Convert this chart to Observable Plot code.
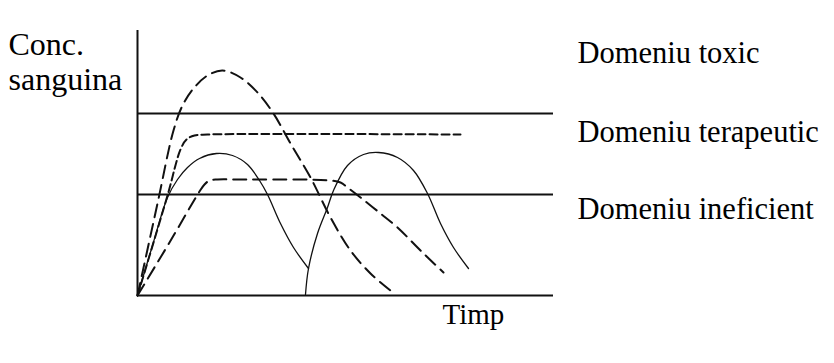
<!DOCTYPE html>
<html>
<head>
<meta charset="utf-8">
<script src="https://cdn.jsdelivr.net/npm/d3@7"></script>
<script src="https://cdn.jsdelivr.net/npm/@observablehq/plot@0.6"></script>
<style>
  html, body { margin: 0; padding: 0; background: #fff; }
  #chart svg { display: block; }
</style>
</head>
<body>
<div id="chart"></div>
<script>
// ---- data (time t, concentration c; schematic units) ----
const curveToxicT = [0, 20, 36, 45, 56, 70, 85, 103, 120, 136, 153, 173, 193, 213, 233, 253];
const curveToxicC = [0, 92, 165, 190, 207, 220, 225, 218, 203, 182, 152, 118, 78, 45, 22, 5];

const curvePlateauT = [0, 30, 43, 49, 57, 70, 323];
const curvePlateauC = [0, 100, 146, 156, 160, 161, 161];

const curveDose1T = [0, 15, 30, 40, 50, 62, 79, 95, 110, 122, 130, 143, 156, 171];
const curveDose1C = [0, 50, 98, 116, 128, 137, 142, 140, 131, 115, 101, 72, 48, 27];

const curveDose2T = [168, 171, 180, 190, 196, 210, 226, 241, 260, 276, 290, 303, 316, 331];
const curveDose2C = [1, 27, 62, 88, 105, 130, 141, 143, 138, 125, 102, 72, 48, 27];

const curveSlowT = [0, 32, 62, 67, 72, 80, 100, 193, 203, 210, 223, 243, 260, 283, 306];
const curveSlowC = [0, 53, 104, 111, 115, 116, 116, 115, 113, 108, 98, 82, 68, 45, 23];

const thresholdNames = ["toxic", "ineficient"];
const thresholdValues = [182, 101];

const timeMax = 416;
const concMax = 265;

const domainLabels = ["Domeniu toxic", "Domeniu terapeutic", "Domeniu ineficient"];
const domainLabelConc = [242, 163, 86];
const yAxisLabelLines = ["Conc.", "sanguina"];
const yAxisLabelConc = [251, 216];
const xAxisLabel = "Timp";

// ---- build tables ----
const toPts = (T, C) => T.map((t, i) => ({t, c: C[i]}));
const toxicPts = toPts(curveToxicT, curveToxicC);
const plateauPts = toPts(curvePlateauT, curvePlateauC);
const dose1Pts = toPts(curveDose1T, curveDose1C);
const dose2Pts = toPts(curveDose2T, curveDose2C);
const slowPts = toPts(curveSlowT, curveSlowC);
const thresholds = thresholdNames.map((n, i) => ({name: n, c: thresholdValues[i]}));
const domainTbl = domainLabels.map((s, i) => ({s, c: domainLabelConc[i]}));
const yLabTbl = yAxisLabelLines.map((s, i) => ({s, c: yAxisLabelConc[i]}));

const font = "'Liberation Serif', 'Times New Roman', serif";

const chart = Plot.plot({
  width: 834,
  height: 363,
  marginLeft: 137,
  marginRight: 281,
  marginTop: 30,
  marginBottom: 68,
  x: {domain: [0, timeMax], axis: null},
  y: {domain: [0, concMax], axis: null},
  style: {fontFamily: font, background: "#fff", overflow: "visible"},
  marks: [
    // axes
    Plot.ruleX([0], {y1: 0, y2: concMax, stroke: "#111", strokeWidth: 2}),
    Plot.ruleY([0], {x1: 0, x2: timeMax, stroke: "#111", strokeWidth: 2}),
    // thresholds
    Plot.ruleY(thresholds, {y: "c", x1: 0, x2: timeMax, stroke: "#111", strokeWidth: 2}),
    // curves
    Plot.line(toxicPts, {x: "t", y: "c", curve: "catmull-rom", stroke: "#111", strokeWidth: 2, strokeDasharray: "13,7"}),
    Plot.line(plateauPts, {x: "t", y: "c", curve: "catmull-rom", stroke: "#111", strokeWidth: 2, strokeDasharray: "8,4"}),
    Plot.line(slowPts, {x: "t", y: "c", curve: "catmull-rom", stroke: "#111", strokeWidth: 2, strokeDasharray: "13,7"}),
    Plot.line(dose1Pts, {x: "t", y: "c", curve: "catmull-rom", stroke: "#111", strokeWidth: 1.3}),
    Plot.line(dose2Pts, {x: "t", y: "c", curve: "catmull-rom", stroke: "#111", strokeWidth: 1.3}),
    // labels
    Plot.text(domainTbl, {x: () => 440, y: "c", text: "s", textAnchor: "start", fontSize: 30.5, fill: "#000"}),
    Plot.text(yLabTbl, {x: () => -129, y: "c", text: "s", textAnchor: "start", fontSize: 32, fill: "#000"}),
    Plot.text([xAxisLabel], {x: () => 305, y: () => -19, text: d => d, textAnchor: "start", fontSize: 29, fill: "#000"})
  ]
});
document.getElementById("chart").appendChild(chart);
</script>
</body>
</html>
